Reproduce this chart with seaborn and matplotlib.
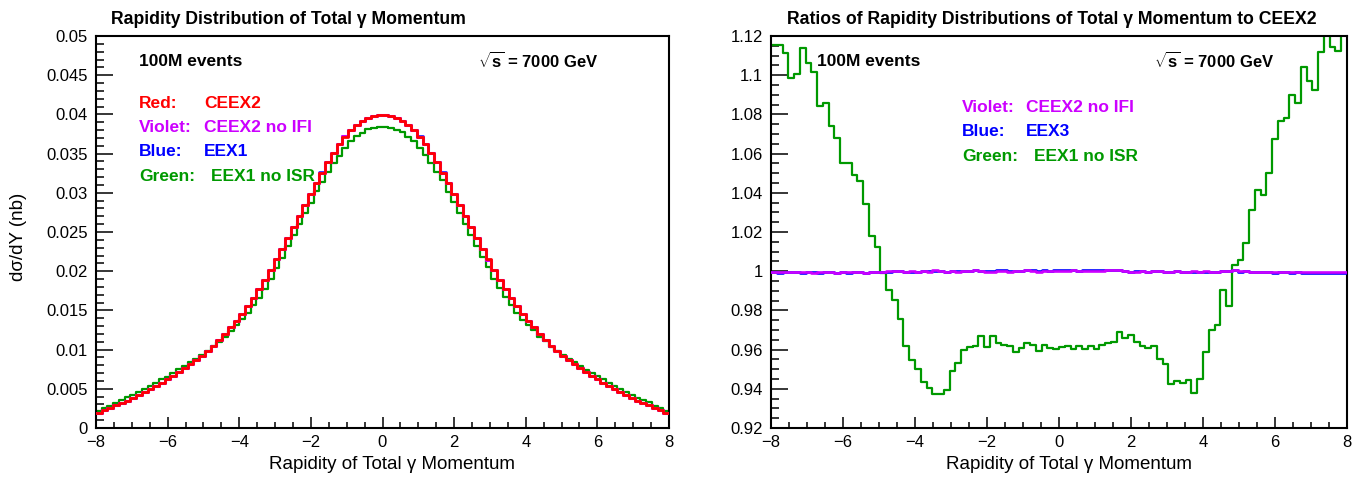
import numpy as np
import pandas as pd
import matplotlib
matplotlib.use("Agg")
import matplotlib.pyplot as plt
import seaborn as sns
from matplotlib.ticker import MultipleLocator, FuncFormatter, FixedLocator

# ---------------- data (100 bins of width 0.16, -8 .. 8) ----------------
bin_edges = np.linspace(-8.0, 8.0, 101)
bin_centers = 0.5 * (bin_edges[:-1] + bin_edges[1:])

red_ceex2 = [
    0.00195, 0.00225, 0.00255, 0.00290, 0.00320, 0.00350, 0.00385, 0.00420, 0.00458, 0.00497,
    0.00538, 0.00580, 0.00622, 0.00667, 0.00713, 0.00762, 0.00813, 0.00867, 0.00922, 0.00985,
    0.01050, 0.01118, 0.01196, 0.01285, 0.01370, 0.01460, 0.01560, 0.01662, 0.01770, 0.01890,
    0.02020, 0.02150, 0.02280, 0.02420, 0.02560, 0.02700, 0.02840, 0.02980, 0.03120, 0.03258,
    0.03390, 0.03510, 0.03620, 0.03718, 0.03800, 0.03868, 0.03920, 0.03958, 0.03982, 0.03992,
    0.03992, 0.03982, 0.03958, 0.03920, 0.03868, 0.03800, 0.03718, 0.03620, 0.03510, 0.03390,
    0.03258, 0.03120, 0.02980, 0.02840, 0.02700, 0.02560, 0.02420, 0.02280, 0.02150, 0.02020,
    0.01890, 0.01770, 0.01662, 0.01560, 0.01460, 0.01370, 0.01285, 0.01196, 0.01118, 0.01050,
    0.00985, 0.00922, 0.00867, 0.00813, 0.00762, 0.00713, 0.00667, 0.00622, 0.00580, 0.00538,
    0.00497, 0.00458, 0.00420, 0.00385, 0.00350, 0.00320, 0.00290, 0.00255, 0.00225, 0.00195,
]

violet_ceex2_noifi = [
    0.00195, 0.00225, 0.00255, 0.00290, 0.00320, 0.00350, 0.00385, 0.00420, 0.00458, 0.00497,
    0.00538, 0.00580, 0.00622, 0.00667, 0.00713, 0.00762, 0.00812, 0.00867, 0.00922, 0.00985,
    0.01050, 0.01118, 0.01196, 0.01284, 0.01370, 0.01460, 0.01560, 0.01662, 0.01771, 0.01890,
    0.02019, 0.02150, 0.02280, 0.02420, 0.02561, 0.02700, 0.02840, 0.02979, 0.03121, 0.03258,
    0.03389, 0.03510, 0.03620, 0.03719, 0.03800, 0.03868, 0.03921, 0.03958, 0.03983, 0.03993,
    0.03992, 0.03982, 0.03959, 0.03920, 0.03869, 0.03800, 0.03718, 0.03621, 0.03511, 0.03391,
    0.03258, 0.03119, 0.02980, 0.02840, 0.02699, 0.02560, 0.02421, 0.02280, 0.02149, 0.02020,
    0.01889, 0.01770, 0.01662, 0.01559, 0.01460, 0.01370, 0.01285, 0.01196, 0.01118, 0.01051,
    0.00985, 0.00922, 0.00867, 0.00813, 0.00762, 0.00713, 0.00667, 0.00622, 0.00580, 0.00538,
    0.00497, 0.00458, 0.00420, 0.00385, 0.00350, 0.00320, 0.00290, 0.00255, 0.00225, 0.00195,
]

blue_eex1 = [
    0.00195, 0.00225, 0.00255, 0.00290, 0.00320, 0.00350, 0.00385, 0.00420, 0.00458, 0.00497,
    0.00538, 0.00580, 0.00622, 0.00667, 0.00713, 0.00762, 0.00812, 0.00867, 0.00922, 0.00985,
    0.01050, 0.01118, 0.01196, 0.01284, 0.01370, 0.01460, 0.01560, 0.01662, 0.01770, 0.01890,
    0.02019, 0.02150, 0.02280, 0.02420, 0.02561, 0.02701, 0.02841, 0.02980, 0.03122, 0.03259,
    0.03390, 0.03511, 0.03621, 0.03720, 0.03802, 0.03869, 0.03921, 0.03960, 0.03983, 0.03994,
    0.03994, 0.03984, 0.03960, 0.03921, 0.03869, 0.03802, 0.03719, 0.03622, 0.03512, 0.03392,
    0.03259, 0.03119, 0.02980, 0.02840, 0.02699, 0.02560, 0.02420, 0.02280, 0.02149, 0.02020,
    0.01889, 0.01769, 0.01662, 0.01559, 0.01460, 0.01370, 0.01285, 0.01196, 0.01118, 0.01050,
    0.00985, 0.00922, 0.00867, 0.00813, 0.00762, 0.00713, 0.00667, 0.00622, 0.00580, 0.00538,
    0.00497, 0.00458, 0.00420, 0.00385, 0.00350, 0.00320, 0.00290, 0.00255, 0.00225, 0.00195,
]

green_eex1_noisr = [
    0.002175, 0.002510, 0.002834, 0.003185, 0.003522, 0.003898, 0.004260, 0.004628, 0.004966, 0.005397,
    0.005780, 0.006196, 0.006563, 0.007040, 0.007481, 0.007971, 0.008410, 0.008828, 0.009336, 0.009840,
    0.010398, 0.011016, 0.011666, 0.012359, 0.013078, 0.013873, 0.014717, 0.015628, 0.016587, 0.017717,
    0.018980, 0.020404, 0.021738, 0.023225, 0.024607, 0.025971, 0.027466, 0.028644, 0.030167, 0.031388,
    0.032632, 0.033756, 0.034716, 0.035726, 0.036609, 0.037214, 0.037597, 0.038080, 0.038251, 0.038331,
    0.038371, 0.038307, 0.038005, 0.037699, 0.037152, 0.036548, 0.035697, 0.034846, 0.033812, 0.032680,
    0.031570, 0.030142, 0.028823, 0.027372, 0.025974, 0.024602, 0.023276, 0.021781, 0.020485, 0.019041,
    0.017842, 0.016688, 0.015699, 0.014631, 0.013798, 0.013134, 0.012467, 0.011633, 0.011075, 0.010312,
    0.009883, 0.009274, 0.008794, 0.008382, 0.007934, 0.007408, 0.007006, 0.006639, 0.006245, 0.005800,
    0.005416, 0.004973, 0.004637, 0.004224, 0.003824, 0.003558, 0.003263, 0.002842, 0.002503, 0.002204,
]

ratio_violet_noifi = [
    0.9995, 0.9994, 0.9995, 0.9996, 0.9994, 0.9995, 0.9995, 0.9993, 0.9995, 0.9996,
    0.9994, 0.9993, 0.9995, 0.9994, 0.9996, 0.9995, 0.9992, 0.9996, 0.9997, 0.9998,
    0.9999, 1.0003, 1.0001, 0.9994, 0.9999, 0.9997, 1.0000, 0.9998, 1.0004, 1.0000,
    0.9996, 0.9999, 0.9998, 1.0001, 0.9999, 1.0004, 1.0002, 0.9998, 0.9997, 1.0003,
    1.0001, 0.9996, 1.0000, 0.9999, 1.0004, 1.0001, 0.9998, 1.0003, 1.0000, 1.0003,
    1.0001, 1.0000, 1.0004, 0.9999, 1.0001, 1.0003, 1.0000, 1.0002, 1.0004, 1.0006,
    1.0004, 1.0000, 0.9996, 0.9998, 1.0001, 0.9997, 0.9999, 1.0003, 0.9998, 0.9997,
    1.0000, 0.9996, 0.9998, 0.9999, 0.9995, 0.9999, 0.9997, 0.9998, 1.0000, 1.0002,
    1.0005, 0.9999, 1.0001, 0.9997, 0.9996, 0.9998, 0.9997, 0.9995, 0.9996, 0.9997,
    0.9995, 0.9997, 0.9996, 0.9994, 0.9996, 0.9997, 0.9995, 0.9994, 0.9996, 0.9995,
]

ratio_blue_eex3 = [
    0.9994, 0.9993, 0.9995, 0.9994, 0.9995, 0.9993, 0.9994, 0.9995, 0.9993, 0.9994,
    0.9995, 0.9992, 0.9994, 0.9993, 0.9995, 0.9994, 0.9991, 0.9995, 0.9996, 0.9997,
    0.9998, 1.0001, 1.0000, 0.9995, 0.9998, 0.9998, 1.0000, 0.9999, 1.0003, 1.0001,
    0.9997, 1.0000, 0.9999, 1.0002, 1.0001, 1.0005, 1.0003, 1.0001, 1.0000, 1.0005,
    1.0004, 1.0000, 1.0003, 1.0002, 1.0006, 1.0004, 1.0002, 1.0005, 1.0003, 1.0006,
    1.0005, 1.0004, 1.0006, 1.0003, 1.0004, 1.0006, 1.0004, 1.0005, 1.0007, 1.0008,
    1.0006, 1.0002, 0.9997, 0.9999, 1.0001, 0.9998, 0.9999, 1.0002, 0.9998, 0.9997,
    0.9999, 0.9996, 0.9997, 0.9998, 0.9995, 0.9998, 0.9996, 0.9997, 0.9999, 1.0001,
    1.0004, 0.9998, 0.9999, 0.9996, 0.9995, 0.9996, 0.9995, 0.9993, 0.9994, 0.9995,
    0.9993, 0.9994, 0.9993, 0.9991, 0.9992, 0.9993, 0.9992, 0.9991, 0.9993, 0.9992,
]

ratio_green_noisr = [
    1.1156, 1.1156, 1.1115, 1.0984, 1.1005, 1.1137, 1.1064, 1.1018, 1.0843, 1.0860,
    1.0743, 1.0682, 1.0551, 1.0554, 1.0492, 1.0461, 1.0345, 1.0182, 1.0126, 0.9990,
    0.9903, 0.9853, 0.9754, 0.9618, 0.9546, 0.9502, 0.9434, 0.9403, 0.9371, 0.9374,
    0.9396, 0.9490, 0.9534, 0.9597, 0.9612, 0.9619, 0.9671, 0.9612, 0.9669, 0.9634,
    0.9626, 0.9617, 0.9590, 0.9609, 0.9634, 0.9621, 0.9591, 0.9621, 0.9606, 0.9602,
    0.9612, 0.9620, 0.9602, 0.9617, 0.9605, 0.9618, 0.9601, 0.9626, 0.9633, 0.9640,
    0.9690, 0.9661, 0.9672, 0.9638, 0.9620, 0.9610, 0.9618, 0.9553, 0.9528, 0.9426,
    0.9440, 0.9428, 0.9446, 0.9379, 0.9451, 0.9587, 0.9702, 0.9727, 0.9906, 0.9821,
    1.0034, 1.0059, 1.0143, 1.0310, 1.0412, 1.0390, 1.0503, 1.0673, 1.0768, 1.0781,
    1.0898, 1.0857, 1.1040, 1.0971, 1.0925, 1.1120, 1.1250, 1.1146, 1.1126, 1.1300,
]

x_ticks = [-8, -6, -4, -2, 0, 2, 4, 6, 8]
left_y_ticks = [0, 0.005, 0.01, 0.015, 0.02, 0.025, 0.03, 0.035, 0.04, 0.045, 0.05]
right_y_ticks = [0.92, 0.94, 0.96, 0.98, 1.0, 1.02, 1.04, 1.06, 1.08, 1.1, 1.12]

left_title = "Rapidity Distribution of Total γ Momentum"
right_title = "Ratios of Rapidity Distributions of Total γ Momentum to CEEX2"
x_label = "Rapidity of Total γ Momentum"
y_label = "dσ/dY (nb)"

# ---------------- style ----------------
sns.set_style("ticks")
plt.rcParams["font.family"] = ["Liberation Sans", "DejaVu Sans"]
plt.rcParams["mathtext.fontset"] = "custom"
plt.rcParams["mathtext.rm"] = "Liberation Sans"
plt.rcParams["mathtext.bf"] = "Liberation Sans:bold"
plt.rcParams["axes.linewidth"] = 1.5
plt.rcParams["text.color"] = "black"
plt.rcParams["axes.labelcolor"] = "black"
plt.rcParams["xtick.color"] = "black"
plt.rcParams["ytick.color"] = "black"

RED = "#ff0000"
VIOLET = "#cc00ff"
BLUE = "#0000ff"
GREEN = "#009900"

W, H = 1370, 478
fig = plt.figure(figsize=(W / 100, H / 100), dpi=100)


def fx(px):
    return px / W


def fy(py):
    return 1 - py / H


ax1 = fig.add_axes([fx(96), fy(428), fx(669) - fx(96), fy(36) - fy(428)])
ax2 = fig.add_axes([fx(771), fy(428), fx(1347) - fx(771), fy(36) - fy(428)])


def hstep(ax, vals, color, lw, z):
    df = pd.DataFrame({"y": bin_centers, "w": np.asarray(vals, dtype=float)})
    sns.histplot(data=df, x="y", weights="w", binwidth=0.16, binrange=(-8.0, 8.0),
                 element="step", fill=False, color=color, linewidth=lw, ax=ax, zorder=z)


hstep(ax1, green_eex1_noisr, GREEN, 1.6, 2)
hstep(ax1, blue_eex1, BLUE, 1.8, 3)
hstep(ax1, violet_ceex2_noifi, VIOLET, 2.2, 4)
hstep(ax1, red_ceex2, RED, 2.0, 5)

hstep(ax2, ratio_green_noisr, GREEN, 1.6, 2)
hstep(ax2, ratio_blue_eex3, BLUE, 1.9, 3)
hstep(ax2, ratio_violet_noifi, VIOLET, 1.9, 4)

fmt = FuncFormatter(lambda v, p: f"{v:g}".replace("-", "\u2212"))

for ax, yt, ymin, ymax, yminor in [(ax1, left_y_ticks, 0, 0.05, 0.001),
                                   (ax2, right_y_ticks, 0.92, 1.12, 0.005)]:
    ax.set_xlim(-8, 8)
    ax.set_ylim(ymin, ymax)
    ax.xaxis.set_major_locator(FixedLocator(x_ticks))
    ax.xaxis.set_minor_locator(MultipleLocator(0.5))
    ax.yaxis.set_major_locator(FixedLocator(yt))
    ax.yaxis.set_minor_locator(MultipleLocator(yminor))
    ax.xaxis.set_major_formatter(fmt)
    ax.yaxis.set_major_formatter(fmt)
    ax.tick_params(axis="both", which="both", direction="in", top=False, right=False,
                   width=1.1, colors="black", labelsize=12)
    ax.tick_params(axis="y", which="major", length=12, pad=6)
    ax.tick_params(axis="y", which="minor", length=6)
    ax.tick_params(axis="x", which="major", length=8, pad=5)
    ax.tick_params(axis="x", which="minor", length=4.3)
    for s in ax.spines.values():
        s.set_color("black")
        s.set_linewidth(1.5)
    ax.set_xlabel(x_label, fontsize=13.5, color="black")
    ax.set_ylabel("")

ax1.xaxis.set_label_coords((392 - 96) / 573, (428 - 456) / 392)
ax2.xaxis.set_label_coords((1069 - 771) / 576, (428 - 456) / 392)
ax1.set_ylabel(y_label, fontsize=13.5, color="black")
ax1.yaxis.set_label_coords((27 - 96) / 573, (428 - 237) / 392)

# titles
fig.text(fx(111), fy(19), left_title, fontsize=12.7, fontweight="bold", va="center", ha="left",
         color="black")
fig.text(fx(787), fy(19), right_title, fontsize=12.7, fontweight="bold", va="center", ha="left",
         color="black")

# annotations
TXT = dict(fontsize=12.5, fontweight="bold", va="center", ha="left")
fig.text(fx(139), fy(61), "100M events", color="black", **TXT)
fig.text(fx(478), fy(61), r"$\sqrt{\mathbf{s}}$ = 7000 GeV", color="black",
         fontsize=12, fontweight="bold", va="center", ha="left")
fig.text(fx(817), fy(61), "100M events", color="black", **TXT)
fig.text(fx(1154), fy(61), r"$\sqrt{\mathbf{s}}$ = 7000 GeV", color="black",
         fontsize=12, fontweight="bold", va="center", ha="left")

left_legend = [("Red:", "CEEX2", RED, 103, 204),
               ("Violet:", "CEEX2 no IFI", VIOLET, 128, 204),
               ("Blue:", "EEX1", BLUE, 152, 204),
               ("Green:", "EEX1 no ISR", GREEN, 176, 211)]
for lab, name, col, py, px2 in left_legend:
    fig.text(fx(139), fy(py), lab, color=col, **TXT)
    fig.text(fx(px2), fy(py), name, color=col, **TXT)

right_legend = [("Violet:", "CEEX2 no IFI", VIOLET, 107, 1026),
                ("Blue:", "EEX3", BLUE, 132, 1026),
                ("Green:", "EEX1 no ISR", GREEN, 156, 1034)]
for lab, name, col, py, px2 in right_legend:
    fig.text(fx(962), fy(py), lab, color=col, **TXT)
    fig.text(fx(px2), fy(py), name, color=col, **TXT)

fig.savefig("out.png", dpi=100, facecolor="white")
